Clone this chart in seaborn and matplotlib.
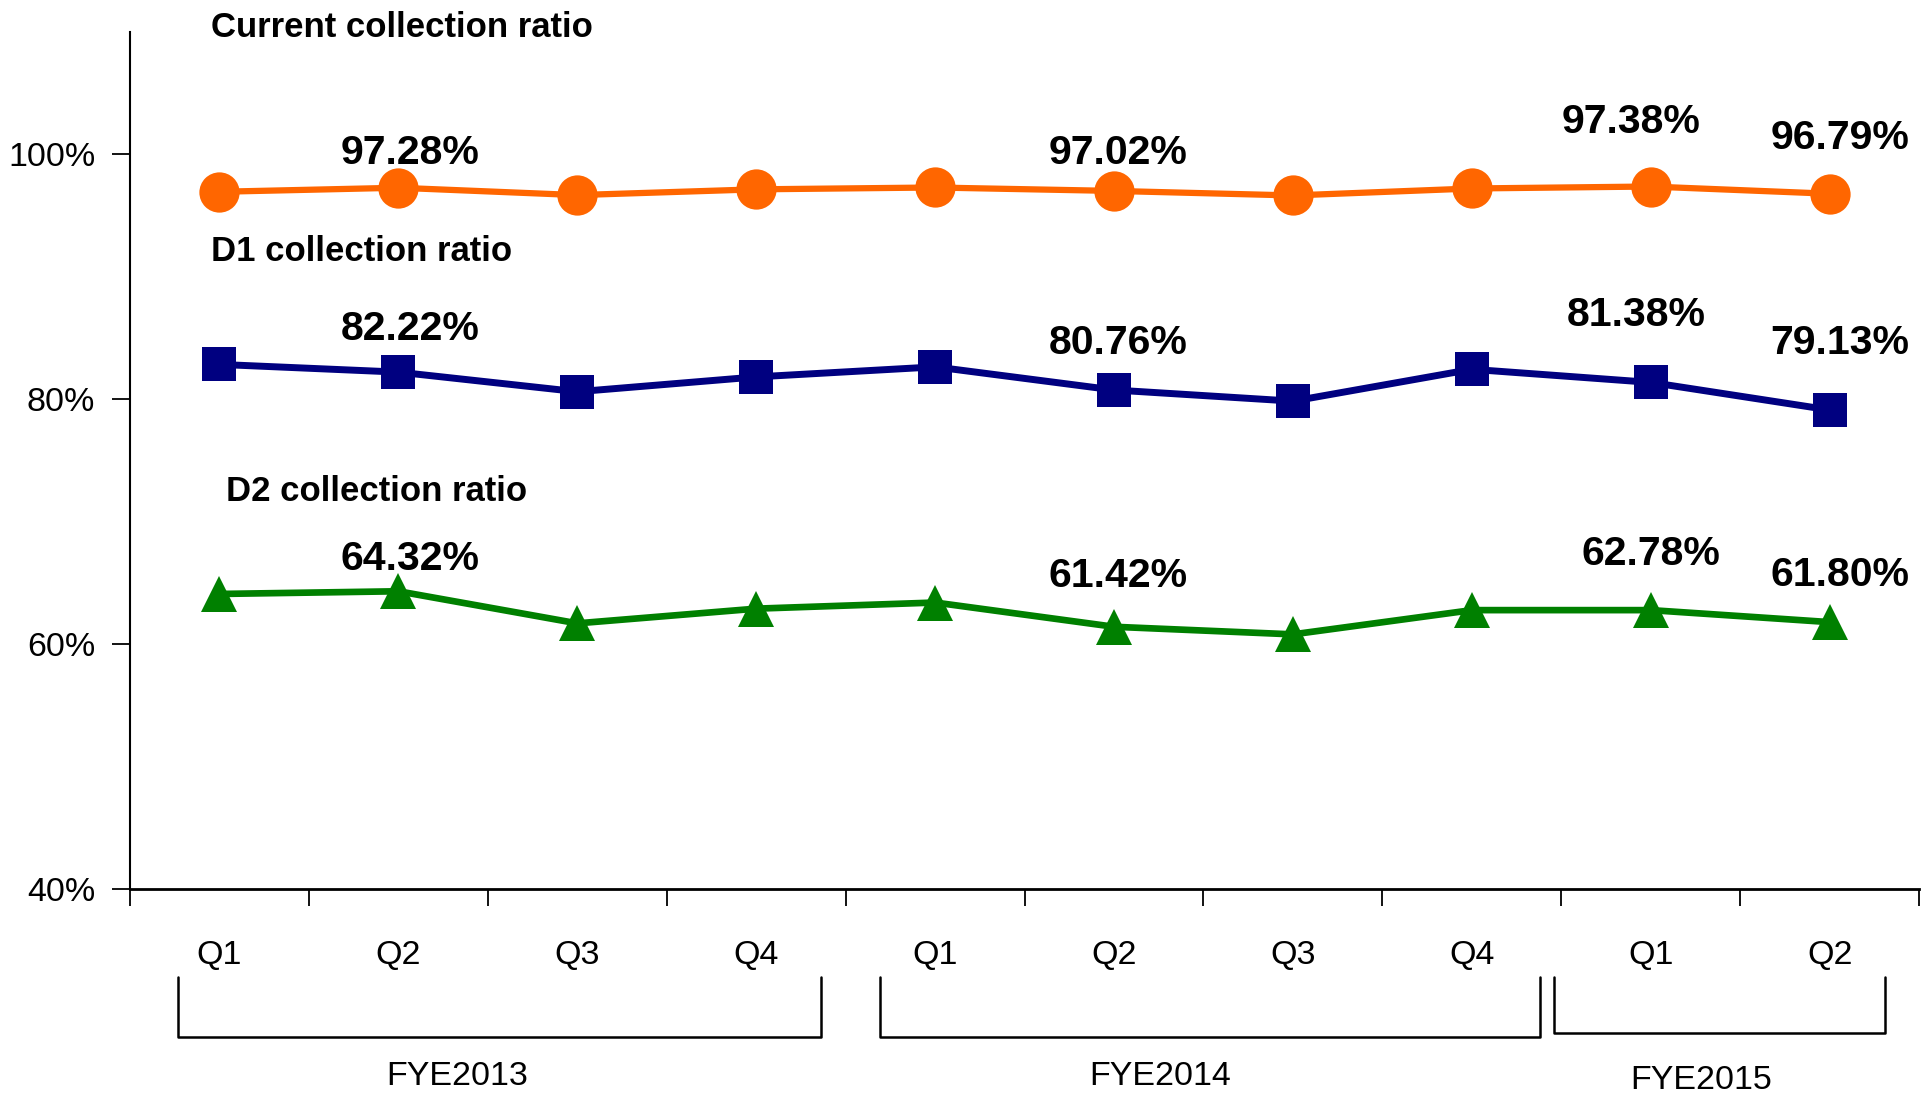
import matplotlib
matplotlib.use("Agg")
import matplotlib.pyplot as plt
import seaborn as sns
import numpy as np

# data
quarters = ["Q1", "Q2", "Q3", "Q4", "Q1", "Q2", "Q3", "Q4", "Q1", "Q2"]
years = ["FYE2013", "FYE2014", "FYE2015"]
current_ratio = [96.95, 97.28, 96.68, 97.15, 97.30, 97.02, 96.65, 97.22, 97.38, 96.79]
d1_ratio = [82.85, 82.22, 80.62, 81.83, 82.65, 80.76, 79.85, 82.45, 81.38, 79.13]
d2_ratio = [64.10, 64.32, 61.70, 62.90, 63.40, 61.42, 60.80, 62.78, 62.78, 61.80]
labelled_idx = [1, 5, 8, 9]
y_ticks = [40, 60, 80, 100]

sns.set_theme(style="white")
plt.rcParams["font.family"] = ["Liberation Sans", "DejaVu Sans"]
plt.rcParams["text.color"] = "black"
plt.rcParams["xtick.color"] = "black"
plt.rcParams["ytick.color"] = "black"

fig = plt.figure(figsize=(19.23, 11), dpi=100)
ax = fig.add_axes([0.0676, 0.1918, 0.9304, 0.7791])

x = np.arange(len(quarters))
series = [
    ("Current collection ratio", current_ratio, "#FF6600", "o", 29, 4.5,
     [(12, 35), (4, 38), (-20, 65), (10, 56)], (-0.047, 110.4)),
    ("D1 collection ratio", d1_ratio, "#000080", "s", 25, 5.0,
     [(12, 43), (4, 47), (-15, 67), (10, 67)], (-0.047, 92.1)),
    ("D2 collection ratio", d2_ratio, "#008000", "^", 26, 4.8,
     [(12, 32), (4, 51), (0, 56), (10, 47)], (0.036, 72.45)),
]

for name, vals, col, mk, ms, lw, offs, tpos in series:
    sns.lineplot(x=x, y=vals, ax=ax, color=col, marker=mk, markersize=ms,
                 markeredgewidth=0, linewidth=lw, clip_on=False)
    for i, (dx, dy) in zip(labelled_idx, offs):
        ax.annotate(f"{vals[i]:.2f}%", (x[i], vals[i]), xytext=(dx, dy),
                    textcoords="offset pixels", ha="center", va="center",
                    fontsize=29.5, fontweight="bold", color="black")
    ax.text(tpos[0], tpos[1], name, ha="left", va="center", fontsize=25,
            fontweight="bold", color="black", clip_on=False)

ax.set_xlim(-0.5, len(quarters) - 0.5)
ax.set_ylim(40, 110)
ax.set_yticks(y_ticks)
ax.set_yticklabels([f"{t}%" for t in y_ticks])
ax.set_xticks(np.arange(-0.5, len(quarters)), labels=[""] * (len(quarters) + 1))
ax.set_xticks(x, labels=quarters, minor=True)

ax.tick_params(axis="y", which="major", direction="out", length=13, width=1.3,
               color="black", labelcolor="black", labelsize=24.5, pad=12, left=True)
ax.tick_params(axis="x", which="major", direction="out", length=12, width=1.3,
               color="black", bottom=True)
ax.tick_params(axis="x", which="minor", length=0, labelsize=24.5, pad=37,
               labelcolor="black")

for side in ["top", "right"]:
    ax.spines[side].set_visible(False)
ax.spines["left"].set_linewidth(1.5)
ax.spines["bottom"].set_linewidth(2.0)
ax.spines["left"].set_color("black")
ax.spines["bottom"].set_color("black")
ax.set_xlabel("")
ax.set_ylabel("")

# fiscal year brackets below the quarter labels
brackets = [(-0.23, 3.36, -0.1727, 1.33, -0.219),
            (3.69, 7.38, -0.1727, 5.26, -0.219),
            (7.46, 9.31, -0.168, 8.28, -0.224)]
trans = ax.get_xaxis_transform()
for yr, (x0, x1, yb, tx, ty) in zip(years, brackets):
    ax.plot([x0, x0, x1, x1], [-0.1027, yb, yb, -0.1027], color="black",
            lw=1.8, transform=trans, clip_on=False)
    ax.text(tx, ty, yr, ha="center", va="center", fontsize=24.5,
            color="black", transform=trans, clip_on=False)

fig.savefig("out.png", dpi=100)
